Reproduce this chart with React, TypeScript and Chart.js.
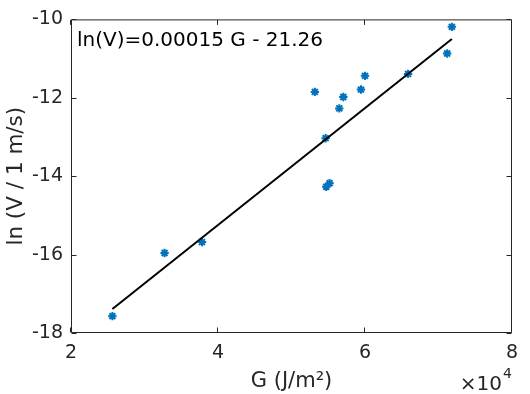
import React, { useEffect, useRef } from "react";
import { Chart, registerables } from "chart.js";

Chart.register(...registerables);

// Data
const G_VALUES = [25630, 32730, 37820, 53180, 54640, 54730, 55180, 56500, 57050, 59450, 60000, 65860, 71180, 71818];
const LNV_VALUES = [-17.57, -15.96, -15.68, -11.85, -13.03, -14.27, -14.18, -12.27, -11.98, -11.79, -11.44, -11.39, -10.87, -10.19];
const FIT_G = [25630, 71818];
const FIT_LNV = [-17.39, -10.5];
const X_TICKS = [20000, 40000, 60000, 80000];
const Y_TICKS = [-18, -16, -14, -12, -10];
const EQUATION = "ln(V)=0.00015 G - 21.26";
const X_TITLE = "G (J/m²)";
const Y_TITLE = "ln (V / 1 m/s)";
const X_EXP_BASE = "×10";
const X_EXP = "4";

const FONT = "DejaVu Sans";
const AXIS_COLOR = "#262626";

const framePlugin = {
  id: "frame",
  afterDraw(chart: any) {
    const { ctx, chartArea } = chart;
    const { left, right, top, bottom } = chartArea;
    const xs = chart.scales.x;
    const ys = chart.scales.y;
    ctx.save();
    ctx.strokeStyle = AXIS_COLOR;
    ctx.lineWidth = 1;
    const L = left + 0.5, R = right - 0.5, T = top + 0.5, B = bottom - 0.5;
    ctx.beginPath();
    ctx.rect(L, T, R - L, B - T);
    ctx.stroke();
    const tl = 5;
    ctx.beginPath();
    X_TICKS.forEach((v) => {
      const px = Math.round(xs.getPixelForValue(v)) - 0.5;
      ctx.moveTo(px, B);
      ctx.lineTo(px, B - tl);
      ctx.moveTo(px, T);
      ctx.lineTo(px, T + tl);
    });
    Y_TICKS.forEach((v) => {
      const py = Math.round(ys.getPixelForValue(v)) + 0.5;
      ctx.moveTo(L, py);
      ctx.lineTo(L + tl, py);
      ctx.moveTo(R, py);
      ctx.lineTo(R - tl, py);
    });
    ctx.stroke();

    // equation text
    ctx.fillStyle = "#000";
    ctx.textAlign = "left";
    ctx.textBaseline = "alphabetic";
    ctx.font = `20px "${FONT}"`;
    ctx.fillText(EQUATION, left + 6, top + 27);

    // axis titles
    ctx.fillStyle = AXIS_COLOR;
    ctx.font = `21px "${FONT}"`;
    ctx.textAlign = "center";
    ctx.fillText(X_TITLE, (left + right) / 2, 387);

    ctx.save();
    ctx.translate(21.5, (top + bottom) / 2);
    ctx.rotate(-Math.PI / 2);
    ctx.font = `21.5px "${FONT}"`;
    ctx.textAlign = "center";
    ctx.fillText(Y_TITLE, 0, 0);
    ctx.restore();

    // exponent label
    ctx.font = `20px "${FONT}"`;
    ctx.textAlign = "right";
    ctx.fillText(X_EXP_BASE, 502, 390);
    ctx.font = `14px "${FONT}"`;
    ctx.textAlign = "left";
    ctx.fillText(X_EXP, 503, 378);
    ctx.restore();
  },
};

export default function App() {
  const ref = useRef<HTMLCanvasElement | null>(null);

  useEffect(() => {
    const canvas = ref.current;
    if (!canvas) return;
    const points = G_VALUES.map((g, i) => ({ x: g, y: LNV_VALUES[i] }));
    const fit = FIT_G.map((g, i) => ({ x: g, y: FIT_LNV[i] }));
    const tickFont = { family: FONT, size: 19 };
    const chart = new Chart(canvas, {
      type: "scatter",
      data: {
        datasets: [
          {
            data: fit,
            showLine: true,
            borderColor: "#000000",
            backgroundColor: "#000000",
            borderWidth: 2,
            pointRadius: 0,
            order: 0,
          },
          {
            data: points,
            pointStyle: "star",
            pointRadius: 4.2,
            borderColor: "#0072BD",
            backgroundColor: "#0072BD",
            borderWidth: 2,
            order: 1,
          },
        ],
      },
      options: {
        responsive: false,
        animation: false,
        layout: { padding: { left: 0, right: 18, top: 14, bottom: 0 } },
        plugins: { legend: { display: false }, tooltip: { enabled: false } },
        scales: {
          x: {
            type: "linear",
            min: 20000,
            max: 80000,
            afterBuildTicks: (s: any) => {
              s.ticks = X_TICKS.map((v) => ({ value: v }));
            },
            afterFit: (s: any) => {
              s.height = 61;
            },
            ticks: {
              callback: (v: any) => String(Number(v) / 10000),
              font: tickFont,
              color: AXIS_COLOR,
              padding: 9,
              maxRotation: 0,
              autoSkip: false,
            },
            grid: { display: false, drawTicks: false },
            border: { display: false },
          },
          y: {
            type: "linear",
            min: -18,
            max: -10,
            afterBuildTicks: (s: any) => {
              s.ticks = Y_TICKS.map((v) => ({ value: v }));
            },
            afterFit: (s: any) => {
              s.width = 71;
            },
            ticks: {
              callback: (v: any) => String(v),
              font: tickFont,
              color: AXIS_COLOR,
              padding: 8,
              autoSkip: false,
            },
            grid: { display: false, drawTicks: false },
            border: { display: false },
          },
        },
      },
      plugins: [framePlugin],
    } as any);
    return () => chart.destroy();
  }, []);

  return (
    <div style={{ position: "fixed", left: 0, top: 0, width: 530, height: 394, background: "#fff" }}>
      <canvas ref={ref} width={530} height={394} style={{ display: "block" }} />
    </div>
  );
}
